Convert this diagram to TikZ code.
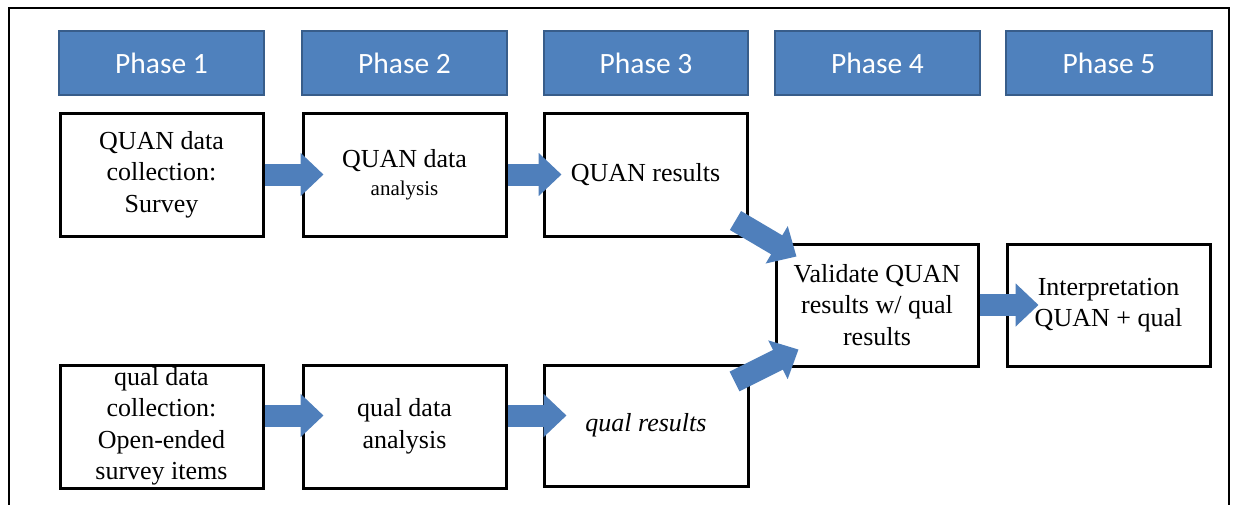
\documentclass[tikz,border=0pt]{standalone}
\usepackage{fontspec}
\setmainfont{Liberation Serif}
\newfontfamily\phasefont{Carlito}
\usetikzlibrary{arrows.meta}
\definecolor{phasefill}{HTML}{4F81BD}
\definecolor{phaseedge}{HTML}{385D8A}
\definecolor{arrowblue}{HTML}{4F7FBB}
\tikzset{
  phasebox/.style={draw=phaseedge, fill=phasefill, line width=2pt,
    minimum width=205pt, minimum height=64pt, inner sep=0pt,
    text=white, font=\phasefont\fontsize{29.5}{34}\selectfont},
  stagebox/.style={draw=black, fill=white, line width=3pt,
    minimum width=203pt, minimum height=123pt, inner sep=0pt,
    align=center, font=\fontsize{26}{31.5}\selectfont},
  blockarrow/.style={draw=arrowblue, line width=22pt,
    -{Triangle[length=23pt 0 0, width=42pt 0]}},
}
\begin{document}
\begin{tikzpicture}[x=1pt, y=-1pt]
\clip (0,0) rectangle (1233,504);
\useasboundingbox (0,0) rectangle (1233,504);

% outer frame (runs off the bottom edge)
\draw[line width=2.5pt, black] (9,520) -- (9,8) -- (1229,8) -- (1229,520);

% phase headers
\node[phasebox] (p1) at (161.5,63) {Phase 1};
\node[phasebox] (p2) at (404.5,63) {Phase 2};
\node[phasebox, minimum width=204pt] (p3) at (646,63) {Phase 3};
\node[phasebox] (p4) at (877.5,63) {Phase 4};
\node[phasebox, minimum width=206pt] (p5) at (1109,63) {Phase 5};

% QUAN strand
\node[stagebox] (a1) at (161.5,174.5) {QUAN data\\collection:\\Survey};
\node[stagebox] (a2) at (404.5,174.5) {QUAN data\\[-4pt]{\fontsize{21}{25}\selectfont analysis}};
\node[stagebox] (a3) at (645.5,174.5) {QUAN results};

% qual strand
\node[stagebox] (b1) at (161.5,426.5) {qual data\\collection:\\Open-ended\\survey items};
\node[stagebox] (b2) at (404.5,426.5) {qual data\\analysis};
\node[stagebox, minimum width=204pt, minimum height=121pt] (b3) at (646,425.5) {\itshape qual results};

% merging and interpretation
\node[stagebox, minimum width=202pt, minimum height=122pt] (v) at (877,305)
  {Validate QUAN\\results w/ qual\\results};
\node[stagebox, minimum width=203pt, minimum height=122pt] (i) at (1108.5,305)
  {Interpretation\\QUAN + qual};

% block arrows
\draw[blockarrow] (a1.east) -- ([xshift=22pt]a2.west);
\draw[blockarrow] (a2.east) -- ([xshift=19pt]a3.west);
\draw[blockarrow] ([yshift=11pt]b1.east) -- ([xshift=22pt,yshift=11pt]b2.west);
\draw[blockarrow] ([yshift=11pt]b2.east) -- ([xshift=24pt,yshift=10pt]b3.west);
\draw[blockarrow] ([xshift=-13pt,yshift=17pt]a3.south east) -- ([xshift=22pt,yshift=-14pt]v.north west);
\draw[blockarrow] ([xshift=-15pt,yshift=-18pt]b3.north east) -- ([xshift=24pt,yshift=18pt]v.south west);
\draw[blockarrow] (v.east) -- ([xshift=33pt]i.west);
\end{tikzpicture}
\end{document}
